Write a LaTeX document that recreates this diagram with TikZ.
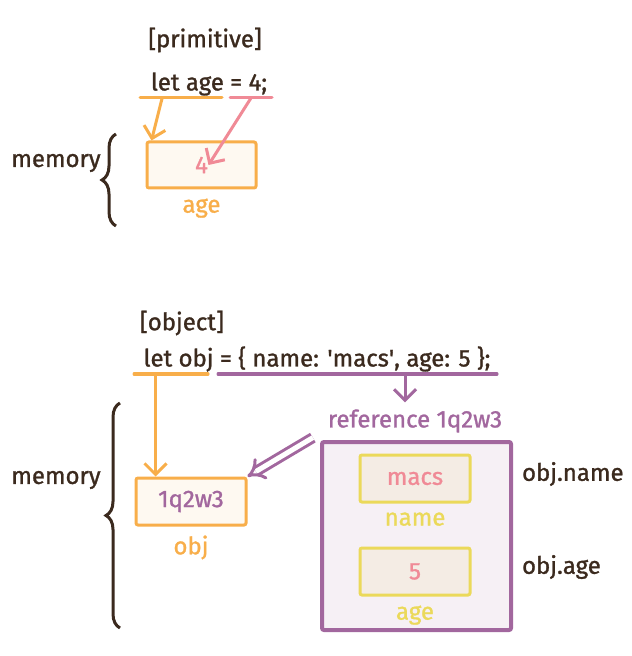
\documentclass[tikz,border=0pt]{standalone}
\usepackage{fontspec}
\setmainfont{Fira Sans}[FakeBold=1.2]
\usetikzlibrary{arrows.meta, decorations.pathreplacing, positioning, calc}
\definecolor{ink}{HTML}{3B2A1E}
\definecolor{varor}{HTML}{F8AE4A}
\definecolor{valpink}{HTML}{F08A96}
\definecolor{refpur}{HTML}{A2679E}
\definecolor{propyel}{HTML}{EBD95A}
\definecolor{slotfill}{HTML}{F4ECE4}
\tikzset{
	slot/.style={draw, line width=1.5pt, rounded corners=1pt, minimum width=54.5pt, minimum height=23pt, inner sep=0pt},
	under/.style={line width=1.5pt, line cap=round},
	pointer/.style={line width=1.5pt, -{Straight Barb[length=5.5pt, width=11pt]}}
}

\begin{document}
\begin{tikzpicture}[
	x=0.5pt, y=-0.5pt,
	font=\fontsize{12}{14}\selectfont, text=ink,
	node distance=1pt,
	memo/.style={ink, line width=1.5pt, decorate, decoration={brace, amplitude=7pt}}]
	\useasboundingbox (0,0) rectangle (631,656);
	% primitive
	\node (primtitle) at (205,40) {[primitive]};
	\node (primcode) at (209,84) {let age = 4;};
	\node[slot, draw=varor, fill=varor!8, text=valpink] (agebox) at (201.5,165) {4};
	\node[text=varor, below=of agebox] (agename) {age};
	\node (primmem) at (56,163) {memory};
	\draw[memo] (116,226) -- (116,134);
	\coordinate (agevarl) at (140,98); \coordinate (agevarr) at (222,98);
	\coordinate (agevall) at (230,98); \coordinate (agevalr) at (272,98);
	\draw[under, varor] (agevarl) -- (agevarr);
	\draw[under, valpink] (agevall) -- (agevalr);
	\draw[pointer, varor] ($(agevarl)!0.27!(agevarr)$) -- ([xshift=3pt]agebox.north west);
	\draw[pointer, valpink] ($(agevall)!0.5!(agevalr)$) -- ([xshift=3.5pt]agebox.center);
	% object
	\node (objtitle) at (182,323) {[object]};
	\node (objcode) at (317,359) {let obj = \{ name: \textquotesingle macs\textquotesingle, age: 5 \};};
	\node[slot, draw=varor, fill=varor!8, text=refpur, minimum width=55pt, minimum height=23.5pt] (objbox) at (191,501.5) {1q2w3};
	\node[text=varor, below=of objbox] (objname) {obj};
	\node (objmem) at (56,480) {memory};
	\draw[memo] (120,628) -- (120,403);
	\node[text=refpur] (reflabel) at (415,421) {reference 1q2w3};
	\node[draw=refpur, fill=refpur!10, line width=2pt, rounded corners=1pt, minimum width=94.5pt, minimum height=94pt] (heap) at (416.5,536) {};
	\node[slot, draw=propyel, fill=slotfill, text=valpink, minimum width=55pt, minimum height=23.5pt] (namebox) at (415,478.5) {macs};
	\node[text=propyel, below=of namebox] (namelabel) {name};
	\node[slot, draw=propyel, fill=slotfill, text=valpink, minimum width=55pt, minimum height=23.5pt] (ageslot) at (415,571.5) {5};
	\node[text=propyel, below=of ageslot] (agelabel) {age};
	\node[anchor=west] (objdotname) at (515,474) {obj.name};
	\node[anchor=west] (objdotage) at (515,567) {obj.age};
	\coordinate (objvarl) at (134,374); \coordinate (objvarr) at (208,374);
	\coordinate (objvall) at (218,374); \coordinate (objvalr) at (497,374);
	\draw[under, varor] (objvarl) -- (objvarr);
	\draw[under, refpur] (objvall) -- (objvalr);
	\draw[pointer, varor] (objvarl -| objbox.north west) ++(10.5pt,0) -- ([xshift=10.5pt]objbox.north west);
	\draw[pointer, refpur] (405,374) coordinate (refdrop) -- (refdrop |- reflabel.north);
	\draw[refpur, line width=1.5pt, double, double distance=2.5pt, -{Implies}] ([xshift=-4pt,yshift=1pt]reflabel.south west) -- (objbox.north east);
\end{tikzpicture}
\end{document}
